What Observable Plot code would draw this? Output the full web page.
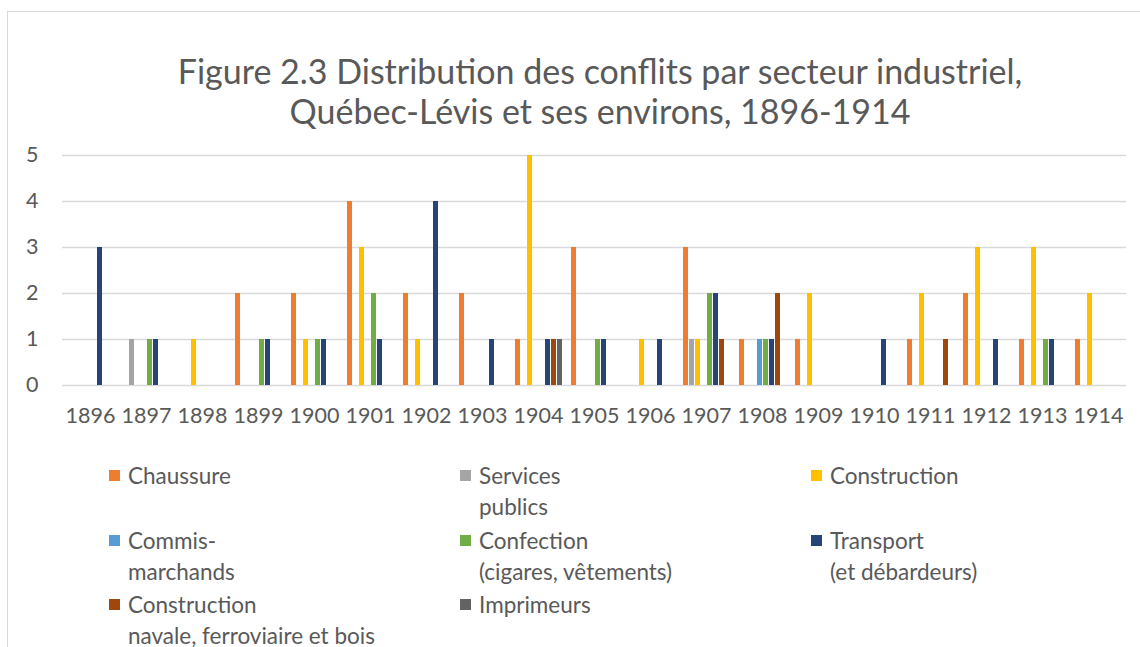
<!DOCTYPE html>
<html>
<head>
<meta charset="utf-8">
<script src="https://cdn.jsdelivr.net/npm/d3@7"></script>
<script src="https://cdn.jsdelivr.net/npm/@observablehq/plot@0.6"></script>
<style>
  html, body { margin: 0; padding: 0; background: #fff; }
  body { width: 1140px; height: 647px; overflow: hidden; position: relative; font-family: Lato, "Open Sans", sans-serif; color: #595959; }
  #frame { position: absolute; left: 7px; top: 11px; width: 1200px; height: 700px; border-left: 1px solid #d9d9d9; border-top: 1px solid #d9d9d9; }
  #title { position: absolute; left: 30px; top: 51px; width: 1140px; text-align: center; font-size: 34px; font-weight: 400; line-height: 40px; color: #595959; }
  #chart { position: absolute; left: 0; top: 140px; }
  #legend { position: absolute; left: 109px; top: 460px; display: grid; grid-template-columns: 351px 351px 300px; grid-auto-rows: 64.5px; }
  .item { display: flex; align-items: flex-start; font-size: 22.5px; line-height: 31px; }
  .sw { width: 11px; height: 11px; margin-top: 10px; margin-right: 8px; flex: none; }
  .lab { white-space: pre-line; }
</style>
</head>
<body>
<div id="frame"></div>
<div id="title">Figure 2.3 Distribution des conflits par secteur industriel,<br>Québec-Lévis et ses environs, 1896-1914</div>
<div id="chart"></div>
<div id="legend"></div>
<script>
const years = ["1896","1897","1898","1899","1900","1901","1902","1903","1904","1905","1906","1907","1908","1909","1910","1911","1912","1913","1914"];
const series = ["Chaussure","Services publics","Construction","Commis-marchands","Confection (cigares, vêtements)","Transport (et débardeurs)","Construction navale, ferroviaire et bois","Imprimeurs"];
const legendLabels = ["Chaussure","Services\npublics","Construction","Commis-\nmarchands","Confection\n(cigares, vêtements)","Transport\n(et débardeurs)","Construction\nnavale, ferroviaire et bois","Imprimeurs"];
const colors = ["#ED7D31","#A5A5A5","#FFC000","#5B9BD5","#70AD47","#264478","#9E480E","#636363"];
const yTicks = [0,1,2,3,4,5];

const chaussure    = [0,0,0,2,2,4,2,2,1,3,0,3,1,1,0,1,2,1,1];
const services     = [0,1,0,0,0,0,0,0,0,0,0,1,0,0,0,0,0,0,0];
const construction = [0,0,1,0,1,3,1,0,5,0,1,1,0,2,0,2,3,3,2];
const commis       = [0,0,0,0,0,0,0,0,0,0,0,0,1,0,0,0,0,0,0];
const confection   = [0,1,0,1,1,2,0,0,0,1,0,2,1,0,0,0,0,1,0];
const transport    = [3,1,0,1,1,1,4,1,1,1,1,2,1,0,1,0,1,1,0];
const navale       = [0,0,0,0,0,0,0,0,1,0,0,1,2,0,0,1,0,0,0];
const imprimeurs   = [0,0,0,0,0,0,0,0,1,0,0,0,0,0,0,0,0,0,0];

const values = [chaussure, services, construction, commis, confection, transport, navale, imprimeurs];
const rows = series.flatMap((s, i) => years.map((y, j) => ({year: y, series: s, value: values[i][j]})))
  .filter(d => d.value > 0);

const chart = Plot.plot({
  width: 1140,
  height: 290,
  marginTop: 15,
  marginLeft: 60,
  marginRight: 13,
  marginBottom: 45,
  style: {fontFamily: "Lato, sans-serif", fontSize: "21.5px", color: "#595959", background: "transparent", overflow: "visible"},
  fx: {domain: years, padding: 0, label: null, tickSize: 0, tickPadding: 22},
  x: {domain: series, paddingInner: 0.25, paddingOuter: 0.775, axis: null},
  y: {domain: [0, 5], label: null},
  color: {domain: series, range: colors},
  marks: [
    Plot.gridY(yTicks.slice(1), {stroke: "#d9d9d9", strokeOpacity: 1, strokeWidth: 1.3}),
    Plot.ruleY([0], {stroke: "#d9d9d9", strokeWidth: 1.3}),
    Plot.axisY(yTicks, {tickSize: 0, tickPadding: 24, label: null, fontSize: 21.5}),
    Plot.barY(rows, {fx: "year", x: "series", y: "value", fill: "series"})
  ]
});
document.getElementById("chart").appendChild(chart);

const legend = document.getElementById("legend");
series.forEach((s, i) => {
  const item = document.createElement("div");
  item.className = "item";
  const sw = document.createElement("span");
  sw.className = "sw";
  sw.style.background = colors[i];
  const lab = document.createElement("span");
  lab.className = "lab";
  lab.textContent = legendLabels[i];
  item.appendChild(sw);
  item.appendChild(lab);
  legend.appendChild(item);
});
</script>
</body>
</html>
